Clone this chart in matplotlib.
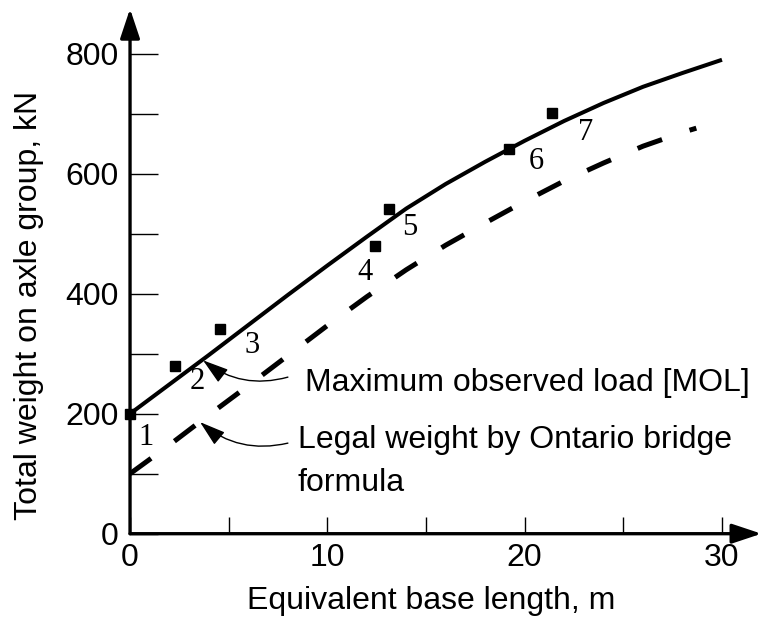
import matplotlib
matplotlib.use('Agg')
import matplotlib.pyplot as plt

plt.rcParams['font.family'] = ['Liberation Sans', 'DejaVu Sans']

# maximum observed load curve (solid)
mol_x = [0, 2, 4, 6, 8, 10, 12, 14, 16, 18, 20, 22, 24, 26, 28, 30]
mol_y = [200, 249, 298, 348, 398, 447, 495, 542, 583, 620, 655, 688, 718, 745, 768, 790]

# legal weight by Ontario bridge formula (dashed)
legal_x = [0, 2, 4, 6, 8, 10, 12, 14, 16, 18, 20, 22, 24, 26, 28, 28.7]
legal_y = [100, 148, 198, 247, 297, 347, 395, 440, 481, 518, 554, 588, 618, 646, 669, 676]

# observed axle groups
obs_x = [0, 2.3, 4.55, 12.4, 13.1, 19.2, 21.4]
obs_y = [200, 280, 341, 479, 541, 641, 701]
obs_labels = ['1', '2', '3', '4', '5', '6', '7']
label_x = [0.8, 3.4, 6.2, 11.9, 14.2, 20.6, 23.1]
label_y = [161, 253, 313, 436, 511, 620, 668]

x_major = [0, 10, 20, 30]
x_minor = [5, 15, 25]
y_major = [0, 200, 400, 600, 800]
y_minor = [100, 300, 500, 700]

fig = plt.figure(figsize=(7.6, 6.19), dpi=100)
ax = fig.add_axes([0.1711, 0.1378, 0.8308, 0.848])
ax.set_xlim(0, 32)
ax.set_ylim(0, 875)
for s in ax.spines.values():
    s.set_visible(False)

# axis lines with arrowheads
arrow_axis = dict(arrowstyle='-|>,head_length=0.9,head_width=0.3', lw=2.4,
                  color='k', shrinkA=0, shrinkB=0, mutation_scale=20)
ax.annotate('', xy=(32, 0), xytext=(0, 0), arrowprops=arrow_axis,
            annotation_clip=False)
ax.annotate('', xy=(0, 875), xytext=(0, 0), arrowprops=arrow_axis,
            annotation_clip=False)

ax.set_xticks(x_major)
ax.set_xticks(x_minor, minor=True)
ax.set_yticks(y_major)
ax.set_yticks(y_minor, minor=True)
ax.tick_params(axis='x', which='both', direction='in', length=12, width=1,
               labelsize=23, pad=7)
ax.tick_params(axis='y', which='both', direction='in', length=20, width=1,
               labelsize=23, pad=8)

ax.plot(mol_x, mol_y, color='k', lw=2.9, solid_capstyle='butt',
        solid_joinstyle='round')
ax.plot(legal_x, legal_y, color='k', lw=3.6, dashes=(5.2, 5.8),
        dash_capstyle='butt')
ax.plot(obs_x, obs_y, 's', color='k', markersize=7, clip_on=False)

for lx, ly, t in zip(label_x, label_y, obs_labels):
    ax.text(lx, ly, t, fontsize=22, family='Liberation Serif',
            ha='center', va='center')

# leader arrows
arrow_lead = dict(arrowstyle='-|>,head_length=0.8,head_width=0.25', lw=1,
                  color='k', shrinkA=0, shrinkB=0, mutation_scale=20,
                  connectionstyle='arc3,rad=-0.25')
ax.text(8.87, 251, 'Maximum observed load [MOL]', fontsize=23,
        ha='left', va='center')
ax.annotate('', xy=(3.7, 289), xytext=(8.0, 261), arrowprops=arrow_lead)

ax.text(8.5, 156, 'Legal weight by Ontario bridge', fontsize=23,
        ha='left', va='center')
ax.text(8.5, 84, 'formula', fontsize=23, ha='left', va='center')
ax.annotate('', xy=(3.55, 186), xytext=(8.0, 151), arrowprops=arrow_lead)

ax.set_xlabel('Equivalent base length, m', fontsize=23)
ax.set_ylabel('Total weight on axle group, kN', fontsize=23)
ax.xaxis.set_label_coords(0.477, -0.099)
ax.yaxis.set_label_coords(-0.136, 0.4356)

fig.savefig('out.png', dpi=100)
